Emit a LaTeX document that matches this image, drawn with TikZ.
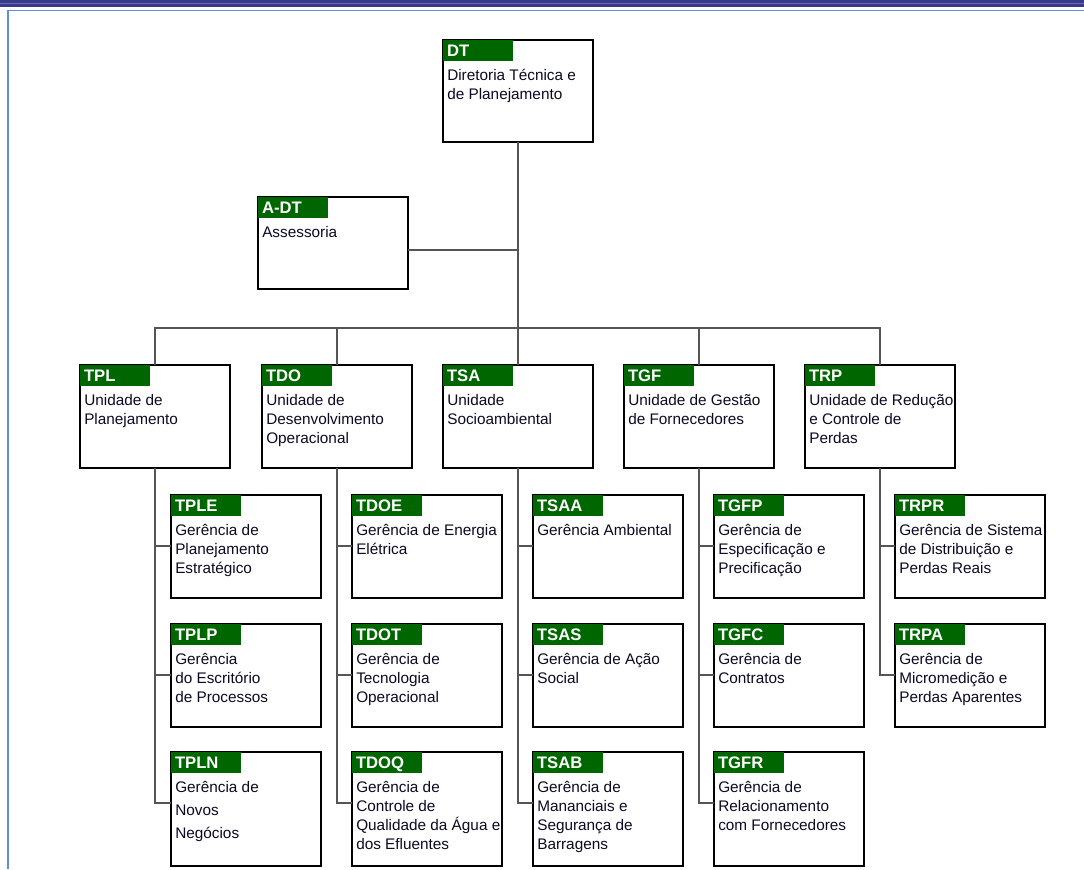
\documentclass[tikz,border=0pt]{standalone}
\usepackage{fontspec}
\setmainfont{Liberation Sans}
\usepackage{xcolor}
\usepackage{tikz}
\usetikzlibrary{positioning,calc}

\definecolor{tagGreen}{RGB}{0,102,0}
\definecolor{linkGray}{RGB}{85,85,85}
\definecolor{bodyInk}{RGB}{12,10,35}
\definecolor{barBlue}{RGB}{58,58,140}
\definecolor{frameBlue}{RGB}{95,145,215}

\tikzset{
  unitbox/.style={draw=black, line width=1.5pt, fill=white, minimum width=112.5pt,
    inner sep=0pt, outer sep=0pt},
  tag/.style={fill=tagGreen, text=white, font=\fontsize{12.5}{14}\selectfont\bfseries,
    minimum height=15.75pt, text width=46.5pt, inner xsep=3pt, inner ysep=0pt,
    text height=9pt, text depth=0pt, align=left, outer sep=0pt},
  body/.style={text=bodyInk, font=\fontsize{11.5}{14.25}\selectfont, align=left, inner sep=0pt},
  link/.style={draw=linkGray, line width=1.1pt},
}

% #1 height (px), #2 name, #3 x, #4 y, #5 code, #6 text
\newcommand{\orgbox}[6][103]{%
  \node[unitbox, minimum height=#1*0.75pt, anchor=north west] (#2) at (#3,#4) {};
  \node[tag, anchor=north west] (#2-tag) at (#2.north west) {#5};
  \node[body, anchor=north west] (#2-text) at ([shift={(3pt,-19pt)}]#2.north west) {\rule{0pt}{11pt}#6};
}

\begin{document}
\begin{tikzpicture}[x=0.75pt, y=-0.75pt]
  \useasboundingbox (0,0) rectangle (1084,869);

  % page frame
  \fill[barBlue] (0,0) rectangle (1084,7);
  \fill[barBlue!75!white] (0,2.5) rectangle (1084,4);
  \draw[frameBlue, line width=1.2pt] (8,869) -- (8,10.5) -- (1084,10.5);

  % top
  \orgbox[102]{dt}{443}{40}{DT}{Diretoria Técnica e\\de Planejamento}
  \orgbox[92]{adt}{258}{197}{A-DT}{Assessoria}

  % units
  \orgbox{tpl}{80}{365}{TPL}{Unidade de\\Planejamento}
  \orgbox{tdo}{262}{365}{TDO}{Unidade de\\Desenvolvimento\\Operacional}
  \orgbox{tsa}{443}{365}{TSA}{Unidade\\Socioambiental}
  \orgbox{tgf}{624}{365}{TGF}{Unidade de Gestão\\de Fornecedores}
  \orgbox{trp}{805}{365}{TRP}{Unidade de Redução\\e Controle de\\Perdas}

  % managements
  \orgbox{tple}{171}{495}{TPLE}{Gerência de\\Planejamento\\Estratégico}
  \orgbox{tplp}{171}{624}{TPLP}{Gerência\\do Escritório\\de Processos}
  \orgbox[114]{tpln}{171}{752}{TPLN}{Gerência de\\[3pt]Novos\\[3pt]Negócios}

  \orgbox{tdoe}{352}{495}{TDOE}{Gerência de Energia\\Elétrica}
  \orgbox{tdot}{352}{624}{TDOT}{Gerência de\\Tecnologia\\Operacional}
  \orgbox[114]{tdoq}{352}{752}{TDOQ}{Gerência de\\Controle de\\Qualidade da Água e\\dos Efluentes}

  \orgbox{tsaa}{533}{495}{TSAA}{Gerência Ambiental}
  \orgbox{tsas}{533}{624}{TSAS}{Gerência de Ação\\Social}
  \orgbox[114]{tsab}{533}{752}{TSAB}{Gerência de\\Mananciais e\\Segurança de\\Barragens}

  \orgbox{tgfp}{714}{495}{TGFP}{Gerência de\\Especificação e\\Precificação}
  \orgbox{tgfc}{714}{624}{TGFC}{Gerência de\\Contratos}
  \orgbox[114]{tgfr}{714}{752}{TGFR}{Gerência de\\Relacionamento\\com Fornecedores}

  \orgbox{trpr}{895}{495}{TRPR}{Gerência de Sistema\\de Distribuição e\\Perdas Reais}
  \orgbox{trpa}{895}{624}{TRPA}{Gerência de\\Micromedição e\\Perdas Aparentes}

  % connectors
  \coordinate (bus) at (517,328);
  \draw[link] (dt.south) -- (tsa.north);
  \draw[link] ([yshift=-5.25pt]adt.east) -- ([yshift=-5.25pt]adt.east -| dt.south);
  \draw[link] (tpl.north) |- (bus) -| (trp.north);
  \draw[link] (tdo.north) -- (tdo.north |- bus);
  \draw[link] (tgf.north) -- (tgf.north |- bus);
  \foreach \up/\down in {tpl/tple, tpl/tplp, tpl/tpln, tdo/tdoe, tdo/tdot, tdo/tdoq,
      tsa/tsaa, tsa/tsas, tsa/tsab, tgf/tgfp, tgf/tgfc, tgf/tgfr, trp/trpr, trp/trpa}
    \draw[link] ([yshift=-38.25pt]\down.north west) -| (\up.south);
\end{tikzpicture}
\end{document}
